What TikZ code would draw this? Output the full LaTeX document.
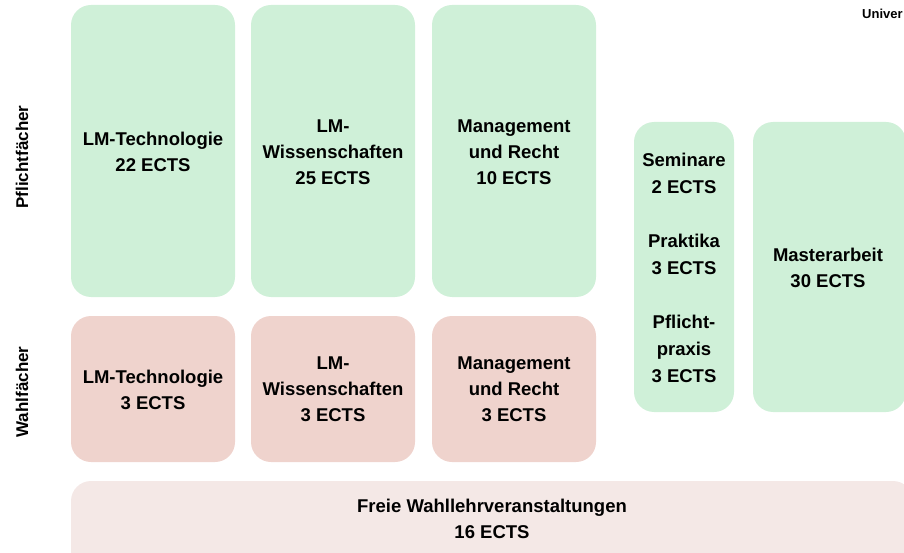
\documentclass[tikz,border=0pt]{standalone}
\usepackage{fontspec}
\setmainfont{Liberation Sans}
\definecolor{pgreen}{HTML}{CFF0D8}
\definecolor{wred}{HTML}{EFD3CD}
\definecolor{fpink}{HTML}{F4E8E6}
\tikzset{
  modbox/.style={rounded corners=20pt, draw=none},
  lbl/.style={font=\bfseries\fontsize{18.5}{26}\selectfont, align=center, text=black, inner sep=0pt},
  side/.style={font=\bfseries\fontsize{17}{20}\selectfont, rotate=90, inner sep=0pt}
}
\begin{document}
\begin{tikzpicture}[x=1pt,y=-1pt]
\path[use as bounding box] (0,0) rectangle (904,553);
\clip (0,0) rectangle (904,553);
% Pflichtfaecher row
\fill[pgreen, modbox] (71,5) rectangle (235,297);
\fill[pgreen, modbox] (251,5) rectangle (415,297);
\fill[pgreen, modbox] (432,5) rectangle (596,297);
% Wahlfaecher row
\fill[wred, modbox] (71,316) rectangle (235,462);
\fill[wred, modbox] (251,316) rectangle (415,462);
\fill[wred, modbox] (432,316) rectangle (596,462);
% right column
\fill[pgreen, modbox] (634,122) rectangle (734,412);
\fill[pgreen, modbox] (753,122) rectangle (906,412);
% free electives
\fill[fpink, modbox] (71,481) rectangle (913,575);

\node[lbl] (t1) at (153,152) {LM-Technologie\\22 ECTS};
\node[lbl] (t2) at (333,152) {LM-\\Wissenschaften\\25 ECTS};
\node[lbl] (t3) at (514,152) {Management\\und Recht\\10 ECTS};
\node[lbl] (w1) at (153,390) {LM-Technologie\\3 ECTS};
\node[lbl] (w2) at (333,389) {LM-\\Wissenschaften\\3 ECTS};
\node[lbl] (w3) at (514,389) {Management\\und Recht\\3 ECTS};
\node[lbl, font=\bfseries\fontsize{18.5}{27}\selectfont] (s) at (684,268) {Seminare\\2 ECTS\\[27pt]Praktika\\3 ECTS\\[27pt]Pflicht-\\praxis\\3 ECTS};
\node[lbl] (m) at (828,268) {Masterarbeit\\30 ECTS};
\node[lbl] (f) at (492,519) {Freie Wahllehrveranstaltungen\\16 ECTS};

\node[side] (p) at (22,157) {Pflichtfächer};
\node[side] (wf) at (22,392) {Wahlfächer};
\node[font=\bfseries\fontsize{13}{15}\selectfont, anchor=west, inner sep=0pt] (u) at (862,14) {Univer};
\end{tikzpicture}
\end{document}
